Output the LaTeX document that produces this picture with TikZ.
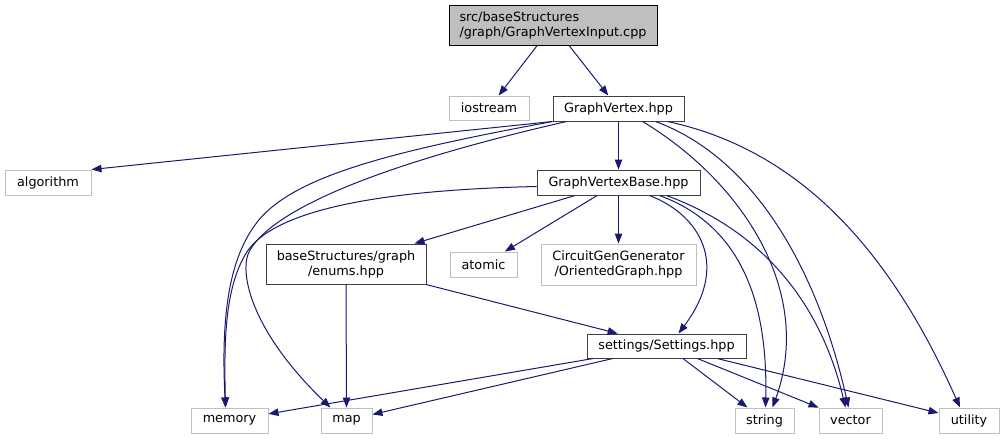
\documentclass[tikz,border=0pt]{standalone}
\usepackage{fontspec}
\setmainfont{DejaVu Sans}
\usepackage{tikz}
\usetikzlibrary{arrows.meta, calc}
\definecolor{cEdge}{RGB}{25,25,112}
\definecolor{cHead}{RGB}{191,191,191}
\tikzset{
	box/.style  ={rectangle, inner sep=0pt, minimum height=18.75pt, line width=0.75pt, align=center, fill=white},
	hdr/.style  ={box, draw=black, fill=cHead, align=left},
	doc/.style  ={box, draw=black!75},
	ext/.style  ={box, draw=cHead},
	dep/.style  ={-{Triangle[length=7.5pt, width=5.6pt]}, draw=cEdge, line width=0.75pt},
}

\begin{document}
\begin{tikzpicture}[x=0.75pt, y=-0.75pt, font=\fontsize{9.6pt}{11.25pt}\selectfont]
	\useasboundingbox (0,0) rectangle (1005,440);
	% files
	\node[hdr, minimum width=156pt, minimum height=30pt] (src) at (553,25) {src/baseStructures\\/graph/GraphVertexInput.cpp};
	\node[ext, minimum width=60pt, minimum height=18pt] (ios) at (489,108) {iostream};
	\node[doc, minimum width=98.25pt] (gv) at (618.5,108.5) {GraphVertex.hpp};
	\node[ext, minimum width=64.5pt] (alg) at (48,182.5) {algorithm};
	\node[doc, minimum width=122.25pt] (gvb) at (618.5,182.5) {GraphVertexBase.hpp};
	\node[doc, minimum width=120pt, minimum height=30pt] (enm) at (346,264) {baseStructures/graph\\/enums.hpp};
	\node[ext, minimum width=50.25pt] (atm) at (483.5,264.5) {atomic};
	\node[ext, minimum width=116.25pt, minimum height=30.75pt] (og) at (618.5,264.5) {CircuitGenGenerator\\/OrientedGraph.hpp};
	\node[doc, minimum width=119.25pt, minimum height=18pt] (set) at (666.5,346) {settings/Settings.hpp};
	\node[ext, minimum width=57.75pt] (mem) at (229.5,420.5) {memory};
	\node[ext, minimum width=38.25pt] (map) at (346.5,420.5) {map};
	\node[ext, minimum width=44.25pt] (str) at (764.5,420.5) {string};
	\node[ext, minimum width=47.25pt] (vec) at (850.5,420.5) {vector};
	\node[ext, minimum width=45pt] (utl) at (969,420.5) {utility};

	% includes of the source file
	\draw[dep] (src) -- (ios);
	\draw[dep] (src) -- (gv);

	% includes of GraphVertex.hpp
	\draw[dep] (gv.south west) -- (alg.north east);
	\draw[dep] (gv.south west) .. controls (400,150) and (290,175) .. (255,225)
		.. controls (228,262) and (221,320) .. ($(mem.north)+(-4,0)$);
	\draw[dep] ($(gv.south west)+(14,0)$) .. controls (420,155) and (280,200) .. (250,250)
		.. controls (238,270) and (250,330) .. ($(map.north)+(-16,0)$);
	\draw[dep] (gv) -- (gvb);
	\draw[dep] ($(gv.south)+(24,0)$) .. controls (740,180) and (815,290) .. ($(str.north)+(8,0)$);
	\draw[dep] ($(gv.south)+(37,0)$) .. controls (760,160) and (820,280) .. ($(vec.north)+(-2,0)$);
	\draw[dep] ($(gv.south)+(49,0)$) .. controls (800,150) and (890,250) .. ($(utl.north)+(-9,0)$);

	% includes of GraphVertexBase.hpp
	\draw[dep] ($(gvb.west)+(0,4)$) .. controls (380,190) and (270,210) .. (245,255)
		.. controls (225,290) and (224,340) .. ($(mem.north)+(-4,0)$);
	\draw[dep] (gvb) -- (enm);
	\draw[dep] (gvb) -- (atm);
	\draw[dep] (gvb) -- (og);
	\draw[dep] ($(gvb.south)+(31,0)$) .. controls (700,215) and (730,265) .. ($(set.north)+(12,0)$);
	\draw[dep] ($(gvb.south)+(41,0)$) .. controls (740,225) and (768,300) .. ($(str.north)+(1,0)$);
	\draw[dep] ($(gvb.south)+(48,0)$) .. controls (760,230) and (820,300) .. ($(vec.north)+(-5,0)$);

	% includes of enums.hpp
	\draw[dep] (enm.south) -- (map.north);
	\draw[dep] (enm) -- (set);

	% includes of Settings.hpp
	\draw[dep] (set) -- (mem);
	\draw[dep] (set) -- (map);
	\draw[dep] (set) -- (str);
	\draw[dep] (set) -- (vec);
	\draw[dep] (set) -- (utl);
\end{tikzpicture}
\end{document}
